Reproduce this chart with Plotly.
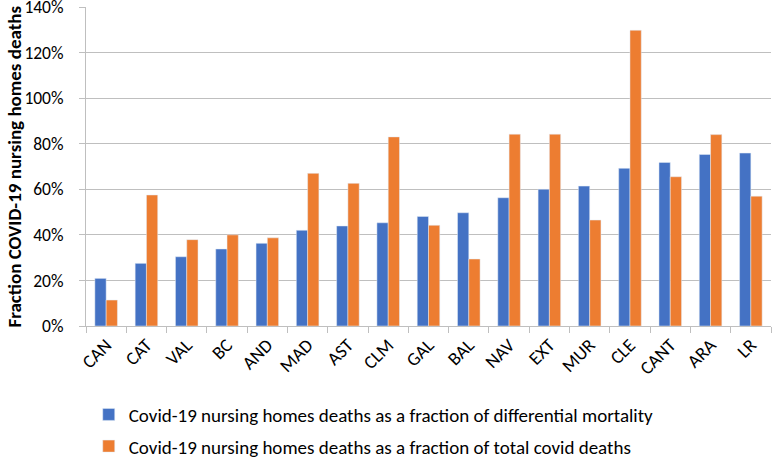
import plotly.graph_objects as go

regions = ["CAN", "CAT", "VAL", "BC", "AND", "MAD", "AST", "CLM", "GAL", "BAL",
           "NAV", "EXT", "MUR", "CLE", "CANT", "ARA", "LR"]
frac_differential = [0.209, 0.275, 0.304, 0.338, 0.363, 0.420, 0.439, 0.453, 0.481, 0.497,
                     0.563, 0.600, 0.614, 0.692, 0.718, 0.753, 0.759]
frac_total_covid = [0.114, 0.575, 0.379, 0.400, 0.387, 0.670, 0.626, 0.830, 0.442, 0.294,
                    0.842, 0.842, 0.465, 1.298, 0.655, 0.840, 0.570]
y_ticks = [0, 0.2, 0.4, 0.6, 0.8, 1.0, 1.2, 1.4]

name_diff = "Covid-19 nursing homes deaths as a fraction of differential mortality"
name_total = "Covid-19 nursing homes deaths as a fraction of total covid deaths"
y_title = "Fraction COVID-19 nursing homes deaths"

FONT = "Carlito, Calibri, Lato, sans-serif"

fig = go.Figure()
fig.add_trace(go.Bar(x=regions, y=frac_differential, name=name_diff,
                     marker_color="#4472C4", legendgroup="a"))
fig.add_trace(go.Bar(x=regions, y=frac_total_covid, name=name_total,
                     marker_color="#ED7D31", legendgroup="b"))

fig.update_layout(
    width=772, height=460,
    margin=dict(l=86, r=1, t=7, b=134),
    paper_bgcolor="white", plot_bgcolor="white",
    barmode="group", bargap=0.44, bargroupgap=0,
    font=dict(family=FONT, size=18, color="#000000"),
    showlegend=True,
    legend=dict(orientation="v", x=0.004, xanchor="left",
                yref="container", y=0.064, yanchor="middle",
                traceorder="grouped", tracegroupgap=4,
                font=dict(family=FONT, size=19, color="#000000"),
                bgcolor="rgba(0,0,0,0)"),
    annotations=[dict(text="<b>" + y_title + "</b>", textangle=-90,
                      xref="paper", yref="paper", x=-0.105, y=0.5,
                      xanchor="center", yanchor="middle", showarrow=False,
                      font=dict(family=FONT, size=19, color="#000000"))],
)
fig.update_xaxes(
    type="category", tickangle=-45, showline=True, linecolor="#BFBFBF", linewidth=1,
    ticks="outside", tickson="boundaries", ticklen=6, tickcolor="#BFBFBF",
    tickfont=dict(family=FONT, size=18.5), showgrid=False, automargin=False,
)
fig.update_yaxes(
    range=[0, 1.4001], tickvals=y_ticks, tickformat=".0%",
    showgrid=True, gridcolor="#BFBFBF", gridwidth=1,
    showline=True, linecolor="#BFBFBF", linewidth=1,
    ticks="outside", ticklen=6, tickcolor="#BFBFBF",
    ticklabelstandoff=12, ticklabeloverflow="allow", zeroline=False, automargin=False,
    tickfont=dict(family=FONT, size=17.5),
)

fig.write_html("out.html", config={"displayModeBar": False},
               post_script="document.body.style.margin='0px';")
